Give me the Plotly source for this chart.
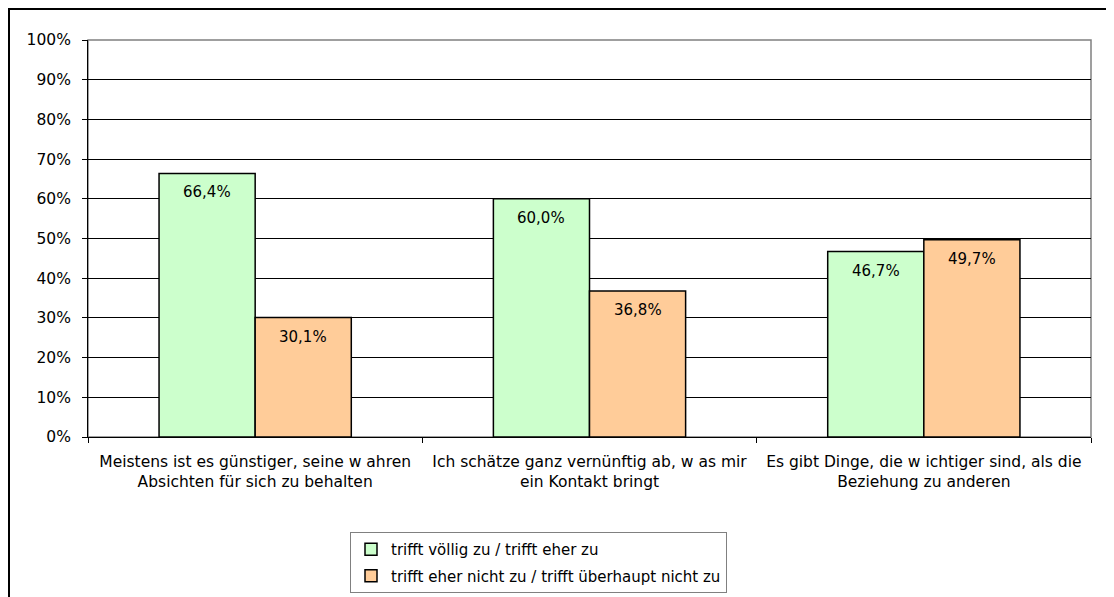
import plotly.graph_objects as go

categories = [
    "Meistens ist es günstiger, seine w ahren<br>Absichten für sich zu behalten",
    "Ich schätze ganz vernünftig ab, w as mir<br>ein Kontakt bringt",
    "Es gibt Dinge, die w ichtiger sind, als die<br>Beziehung zu anderen",
]
series_names = [
    "trifft völlig zu / trifft eher zu",
    "trifft eher nicht zu / trifft überhaupt nicht zu",
]
values_zu = [0.664, 0.600, 0.467]
values_nicht = [0.301, 0.368, 0.497]
colors = ["#CCFFCC", "#FFCC99"]

def fmt(v):
    return f"{v*100:.1f}%".replace(".", ",")

FONT = "DejaVu Sans, Verdana, sans-serif"
W, H = 1106, 589          # page body has an 8px margin
L, R, T, B = 80, 23, 32, 160
PW, PH = W - L - R, H - T - B

fig = go.Figure()
for i, (name, vals, col) in enumerate(zip(series_names, [values_zu, values_nicht], colors)):
    fig.add_trace(go.Bar(
        x=categories, y=vals, name=name, legendgroup=f"g{i}",
        marker=dict(color=col, line=dict(color="#000000", width=1.5)),
        hoverinfo="skip",
    ))

# data labels inside bar tops
bargap = 0.425
bar_w = (1 - bargap) / 2
for i, vals in enumerate([values_zu, values_nicht]):
    for j, v in enumerate(vals):
        fig.add_annotation(
            x=j + (i - 0.5) * bar_w, xref="x", y=v, yref="y",
            text=fmt(v), showarrow=False, yanchor="top", yshift=-8,
            font=dict(size=15, color="#000000", family=FONT),
        )

fig.update_layout(
    width=W, height=H,
    margin=dict(l=L, r=R, t=T, b=B, autoexpand=False),
    paper_bgcolor="white", plot_bgcolor="white",
    font=dict(family=FONT, size=15.5, color="#000000"),
    barmode="group", bargap=bargap, bargroupgap=0,
    showlegend=True,
    legend=dict(
        xref="container", yref="container",
        x=342 / W, xanchor="left",
        y=1 - 524 / H, yanchor="top",
        bordercolor="#808080", borderwidth=1,
        bgcolor="white",
        font=dict(size=15, family=FONT),
        itemwidth=30, tracegroupgap=4,
    ),
)
fig.update_xaxes(
    type="category", tickson="boundaries", ticks="outside", ticklen=5,
    tickcolor="#000000", showline=True, linecolor="#000000", linewidth=1,
    showgrid=False, tickfont=dict(size=15.5), fixedrange=True, automargin=False,
    ticklabelstandoff=10,
)
fig.update_yaxes(
    range=[0, 1], dtick=0.1, tickformat=".0%", ticks="outside", ticklen=5,
    tickcolor="#000000", showline=True, linecolor="#000000", linewidth=1,
    showgrid=True, gridcolor="#000000", gridwidth=1, zeroline=False,
    tickfont=dict(size=15.5), fixedrange=True, automargin=False,
    ticklabelstandoff=8,
)
# plot area border (gray) and outer chart border (black)
fig.add_shape(type="rect", xref="paper", yref="paper", x0=0, x1=1, y0=0, y1=1,
              line=dict(color="#808080", width=1.5), layer="below")
fig.add_shape(type="rect", xref="paper", yref="paper",
              x0=(1 - L) / PW, x1=(W + 20 - L) / PW,
              y0=-(B + 20) / PH, y1=(PH + T - 1) / PH,
              line=dict(color="#000000", width=2), layer="below")

fig.write_html("out.html")
